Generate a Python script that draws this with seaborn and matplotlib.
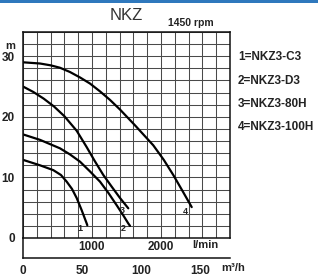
import numpy as np
import pandas as pd
import seaborn as sns
import matplotlib.pyplot as plt
from matplotlib.patches import Rectangle

# curve data: flow in l/min, head in m
q1 = [0, 246, 439, 550, 633, 710, 778, 850, 923, 932]
h1 = [12.9, 12.0, 11.2, 10.4, 9.3, 8.1, 6.6, 4.6, 2.4, 2.1]
q2 = [0, 246, 536, 680, 826, 970, 1116, 1240, 1358, 1450, 1526, 1551]
h2 = [17.1, 16.2, 14.8, 13.8, 12.6, 11.0, 9.3, 7.4, 5.4, 3.8, 2.4, 2.0]
q3 = [0, 150, 300, 450, 600, 778, 923, 1040, 1164, 1290, 1406, 1526]
h3 = [25.0, 24.1, 23.0, 21.7, 20.1, 17.7, 15.0, 12.7, 10.4, 8.4, 6.6, 4.9]
q4 = [0, 246, 400, 536, 680, 826, 970, 1116, 1260, 1406, 1623, 1888, 2040, 2178, 2310, 2445]
h4 = [29.0, 28.8, 28.5, 28.1, 27.4, 26.5, 25.5, 24.2, 22.8, 21.2, 18.6, 15.3, 12.9, 10.4, 7.8, 5.1]

curve_ids = ["1", "2", "3", "4"]
curve_label_x = [826, 1453, 1444, 2357]
curve_label_y = [1.6, 1.5, 4.6, 4.3]
legend_names = ["1=NKZ3-C3", "2=NKZ3-D3", "3=NKZ3-80H", "4=NKZ3-100H"]

lmin_ticks = [1000, 2000]
head_ticks = [0, 10, 20, 30]
m3h_ticks = [0, 50, 100, 150]

rows = []
for cid, qs, hs in zip(curve_ids, [q1, q2, q3, q4], [h1, h2, h3, h4]):
    for q, h in zip(qs, hs):
        rows.append({"pump": cid, "lmin": q, "head": h})
df = pd.DataFrame(rows)

sns.set_style("white")
plt.rcParams["font.family"] = ["Liberation Sans", "DejaVu Sans"]

W, H = 318, 277
fig = plt.figure(figsize=(W / 100, H / 100), dpi=100)
fig.patch.set_facecolor("white")

# main grid box (pixels: left 23, right 230, top 32, bottom 238)
ax = fig.add_axes([23 / W, 1 - 238 / H, 207 / W, 206 / H])
sns.lineplot(data=df, x="lmin", y="head", units="pump", estimator=None,
             sort=False, color="black", linewidth=1.6, ax=ax)
for ln in ax.lines:
    ln.set_solid_joinstyle("round")
    ln.set_solid_capstyle("round")

ax.set_xlim(0, 3000)
ax.set_ylim(0, 34)
ax.set_xticks(lmin_ticks)
ax.set_xticklabels([str(t) for t in lmin_ticks])
ax.set_xticks(np.arange(0, 3001, 200), minor=True)
ax.set_yticks(head_ticks)
ax.set_yticks(np.arange(0, 35, 2), minor=True)
ax.grid(True, which="both", color="#4a4a4a", linewidth=0.75)
ax.tick_params(which="both", length=0)
ax.tick_params(axis="y", pad=6, labelsize=8.5, labelcolor="#222")
ax.tick_params(axis="x", pad=2.5, labelsize=8.5, labelcolor="#222")
for lab in ax.get_xticklabels() + ax.get_yticklabels():
    lab.set_fontweight("bold")
for s in ax.spines.values():
    s.set_color("#111")
    s.set_linewidth(1.1)
ax.set_xlabel("")
ax.set_ylabel("")

for cid, x, y in zip(curve_ids, curve_label_x, curve_label_y):
    ax.text(x, y, cid, ha="center", va="center", fontsize=6.5,
            fontweight="bold", color="#222")

# lower m3/h axis
ax2 = fig.add_axes([23 / W, 1 - 258 / H, 207 / W, 20 / H])
ax2.set_xlim(0, 175)
ax2.set_ylim(0, 1)
ax2.set_xticks(m3h_ticks)
ax2.set_xticklabels([str(t) for t in m3h_ticks])
ax2.set_yticks([])
ax2.patch.set_alpha(0)
ax2.tick_params(axis="x", length=0, pad=5, labelsize=8.5, labelcolor="#222")
for lab in ax2.get_xticklabels():
    lab.set_fontweight("bold")
ax2.spines["top"].set_visible(False)
ax2.spines["right"].set_visible(False)
for s in ["left", "bottom"]:
    ax2.spines[s].set_color("#111")
    ax2.spines[s].set_linewidth(1.1)
fig.text(233 / W, 1 - 268 / H, "m³/h", ha="center", va="center",
         fontsize=8, fontweight="bold", color="#222")
fig.text(205 / W, 1 - 245 / H, "l/min", ha="center", va="center",
         fontsize=8, fontweight="bold", color="#222")

# titles and labels
fig.text(126 / W, 1 - 16 / H, "NKZ", ha="center", va="center",
         fontsize=12, color="#333")
fig.text(191 / W, 1 - 23 / H, "1450 rpm", ha="center", va="center",
         fontsize=7.5, fontweight="bold", color="#222")
fig.text(10 / W, 1 - 46 / H, "m", ha="center", va="center",
         fontsize=8, fontweight="bold", color="#222")

for i, name in enumerate(legend_names):
    fig.text(238 / W, 1 - (57 + i * 23.5) / H, name, ha="left", va="center",
             fontsize=8.5, fontweight="bold", color="#222")

# blue strip at the top
fig.add_artist(Rectangle((0, 1 - 2.7 / H), 1, 2.7 / H, transform=fig.transFigure,
                         facecolor="#2f78bd", edgecolor="none"))

fig.savefig("out.png", dpi=100)
